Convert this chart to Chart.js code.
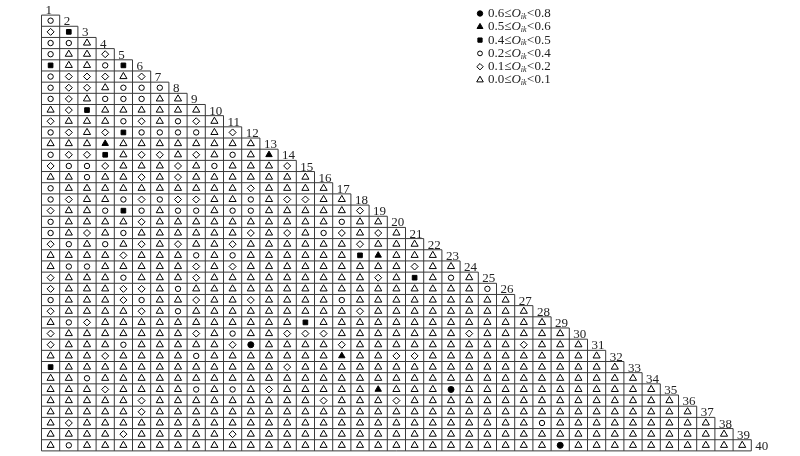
<!DOCTYPE html>
<html>
<head>
<meta charset="utf-8">
<script src="https://cdn.jsdelivr.net/npm/chart.js@4/dist/chart.umd.min.js"></script>
<style>html,body{margin:0;background:#fff}</style>
</head>
<body>
<canvas id="canvas" width="800" height="456"></canvas>
<script>
// one string per row (row 2 ... row 40), one letter per column, grouped by 5
// T 0.0-0.1, D 0.1-0.2, O 0.2-0.4, S 0.4-0.5, A 0.5-0.6, F 0.6-0.8
const rows = [
  'O',
  'DS',
  'OOT',
  'OTTD',
  'STTOS',
  'ODDDT D',
  'ODDTO OO',
  'ODTOO OTT',
  'TDSTT TTTT',
  'DTTTO DTODT',
  'ODTDS OOOOT D',
  'TTTAT TTTTT TT',
  'ODDST DDTDT OTA',
  'DOODT TTDTO TTTD',
  'TTOTT DTDTT TTTTT',
  'OTTTT TTTTT TDTTT T',
  'ODTTO DODDT TOTDD TT',
  'DTTOS OTOOT OOTTT TTD',
  'OTTTT DTTTT TTTTT TOTT',
  'OTDTO TTTTT TDTDT ODTDT',
  'DOTOT DTDTT DTTTT TTDTT T',
  'TTTTD TTTOT OTTTT TTSAT TT',
  'TOOTT TTTDT DTTTT TTTTT DTT',
  'DTTTO TTTDT TTTTT TTTDT STOT',
  'DTTTD DTOTT TTTTT TTTTT TTTTO',
  'OTTTD OTTDT TDTTT TOTTT TTTTT T',
  'DTTTT DTOTT TTTTT TTDTT TTTTT TT',
  'TODTT TTTTT TTTTS TTTTT TTTTT TTT',
  'DTTTT TTTDT OTTDD DTTTT TTTDT TTTT',
  'DTTTO TTTTT DFTTT TDTTT TTTTT TDTTT',
  'TTTDT TTTOT TTTTT TATTD DTTTT TTTTT T',
  'STTTT TTTTT TTTDT TTTTT TTTTT TTTTT TT',
  'TTOTT TTTTT TTTTT TTTTT TTTTT TTTTT TTT',
  'TTTDT TTTOT OTDTT TTTAT TTFTT TTTTT TTTT',
  'TTTTT DTTTT TTTTT DTTTD TTTTT TTTTT TTTTT',
  'TTTTT DTTTT TTTTT TTTTT TTTTT TTTTT TTTTT T',
  'TDTTT TTTTT TTTTT TTTTT TTTTT TTOTT TTTTT TT',
  'TTTTD TTTTT DTTTT TTTTT TTTTT TTTTT TTTTT TTT',
  'TOTTT TTTTT TTTTT TTTTT TTTTT TTTFT TTTTT TTTT'
]
const classCodes = ['F', 'A', 'S', 'O', 'D', 'T']
const lowBounds = ['0.6', '0.5', '0.4', '0.2', '0.1', '0.0']
const highBounds = ['0.8', '0.6', '0.5', '0.4', '0.2', '0.1']
const rowLabels = Array.from({length: 40}, (_, i) => String(i + 1))

const looks = {
  F: {pointStyle: 'circle', radius: 3, fill: '#000'},
  A: {pointStyle: 'triangle', radius: 3.7, fill: '#000'},
  S: {pointStyle: 'rect', radius: 3.3, fill: '#000'},
  O: {pointStyle: 'circle', radius: 2.7, fill: '#fff'},
  D: {pointStyle: 'rectRot', radius: 3.5, fill: '#fff'},
  T: {pointStyle: 'triangle', radius: 4.1, fill: '#fff'}
}

const cells = rows.map(r => r.replace(/\s/g, ''))

const datasets = classCodes.map((code, i) => {
  const pts = []
  cells.forEach((r, ri) => {
    for (let j = 0; j < r.length; j++) {
      if (r[j] === code) pts.push({x: j + 1, y: ri + 2})
    }
  })
  return {
    label: lowBounds[i] + '≤Oik<' + highBounds[i],
    data: pts,
    pointStyle: looks[code].pointStyle,
    pointRadius: looks[code].radius,
    pointBackgroundColor: looks[code].fill,
    pointBorderColor: '#000',
    pointBorderWidth: 1,
    showLine: false,
    clip: false
  }
})

const serif = '"Liberation Serif", "DejaVu Serif", serif'

const gridPlugin = {
  id: 'grid',
  beforeDraw(chart) {
    const ctx = chart.ctx
    ctx.save()
    ctx.fillStyle = '#fff'
    ctx.fillRect(0, 0, chart.width, chart.height)
    ctx.restore()
  },
  beforeDatasetsDraw(chart) {
    const {ctx, scales: {x, y}} = chart
    ctx.save()
    ctx.strokeStyle = '#3a3a3a'
    ctx.lineWidth = 1
    ctx.beginPath()
    for (let k = 2; k <= 41; k++) {
      const yy = y.getPixelForValue(k - 0.5)
      ctx.moveTo(x.getPixelForValue(0.5), yy)
      ctx.lineTo(x.getPixelForValue(Math.min(k, 40) - 0.5), yy)
    }
    for (let j = 1; j <= 40; j++) {
      const xx = x.getPixelForValue(j - 0.5)
      ctx.moveTo(xx, y.getPixelForValue(j === 1 ? 1.5 : j - 0.5))
      ctx.lineTo(xx, y.getPixelForValue(40.5))
    }
    ctx.stroke()
    ctx.restore()
  },
  afterDraw(chart) {
    const {ctx, scales: {x, y}} = chart
    ctx.save()
    ctx.fillStyle = '#222'
    ctx.font = '13px ' + serif
    ctx.textBaseline = 'alphabetic'
    rowLabels.forEach((lab, i) => {
      const k = i + 1
      ctx.fillText(lab, x.getPixelForValue(k - 0.5) + 4, y.getPixelForValue(k + 0.5) - 1)
    })

    // legend
    const lx = 480, tx = 488, ly0 = 13.5, dy = 13.3
    classCodes.forEach((code, i) => {
      const yy = ly0 + i * dy
      const lk = looks[code]
      ctx.fillStyle = lk.fill
      ctx.strokeStyle = '#000'
      ctx.lineWidth = 1
      Chart.helpers.drawPoint(ctx, {pointStyle: lk.pointStyle, radius: lk.radius - 0.3, borderWidth: 1, rotation: 0}, lx, yy)
      ctx.fillStyle = '#222'
      ctx.textBaseline = 'middle'
      let cx = tx
      const s1 = lowBounds[i] + '≤'
      ctx.font = '13px ' + serif
      ctx.fillText(s1, cx, yy)
      cx += ctx.measureText(s1).width
      ctx.font = 'italic 13px ' + serif
      ctx.fillText('O', cx, yy)
      cx += ctx.measureText('O').width
      ctx.font = 'italic 8px ' + serif
      ctx.fillText('ik', cx, yy + 3)
      cx += ctx.measureText('ik').width + 0.5
      ctx.font = '13px ' + serif
      ctx.fillText('<' + highBounds[i], cx, yy)
    })
    ctx.restore()
  }
}

const config = {
  type: 'scatter',
  data: {datasets: datasets},
  options: {
    responsive: false,
    animation: false,
    layout: {padding: {left: 41.5, right: 48.7, top: 15.1, bottom: 3.7}},
    scales: {
      x: {type: 'linear', min: 0.5, max: 39.5, display: false},
      y: {type: 'linear', min: 1.5, max: 40.5, reverse: true, display: false}
    },
    plugins: {legend: {display: false}, tooltip: {enabled: false}}
  },
  plugins: [gridPlugin]
}

const canvas = document.getElementById('canvas')
const chart = new Chart(canvas, config)
</script>
</body>
</html>
